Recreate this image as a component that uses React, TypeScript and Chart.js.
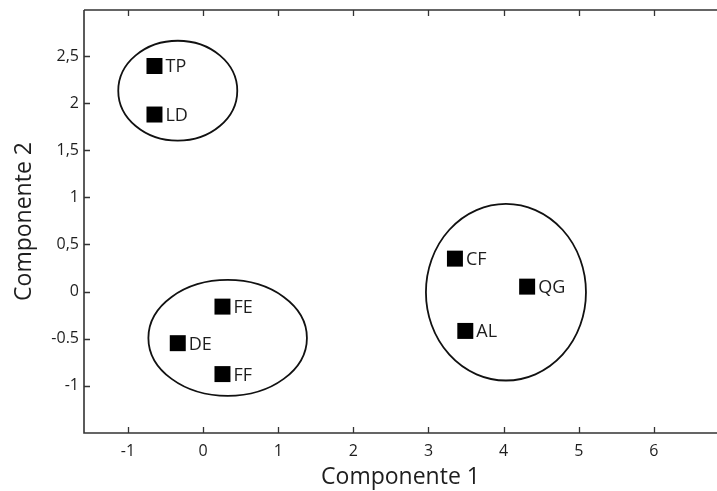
import React, { useEffect, useRef } from "react";
import { Chart, registerables } from "chart.js";

Chart.register(...registerables);

// ---- data ----
const pointNames = ["TP", "LD", "FE", "DE", "FF", "CF", "QG", "AL"];
const comp1 = [-0.647, -0.647, 0.258, -0.337, 0.258, 3.352, 4.313, 3.49];
const comp2 = [2.394, 1.879, -0.159, -0.547, -0.875, 0.35, 0.053, -0.417];

// cluster ellipses (data units)
const ellipseCx = [-0.337, 0.327, 4.031];
const ellipseCy = [2.132, -0.491, -0.006];
const ellipseRx = [0.792, 1.055, 1.065];
const ellipseRy = [0.53, 0.615, 0.937];

const xTickValues = [-1, 0, 1, 2, 3, 4, 5, 6];
const xTickLabels = ["-1", "0", "1", "2", "3", "4", "5", "6"];
const yTickValues = [-1, -0.5, 0, 0.5, 1, 1.5, 2, 2.5];
const yTickLabels = ["-1", "-0.5", "0", "0,5", "1", "1,5", "2", "2,5"];

const xTitle = "Componente 1";
const yTitle = "Componente 2";

const FONT = "'Open Sans', 'Noto Sans', sans-serif";
const AXIS_COLOR = "#333";
const TEXT_COLOR = "#1e1e1e";

const overlayPlugin = {
  id: "overlay",
  beforeDatasetsDraw(chart: any) {
    const { ctx, chartArea, scales } = chart;
    const xs = scales.x;
    const ys = scales.y;
    ctx.save();
    // ellipses
    ctx.strokeStyle = "#111";
    ctx.lineWidth = 1.8;
    for (let i = 0; i < ellipseCx.length; i++) {
      const cx = xs.getPixelForValue(ellipseCx[i]);
      const cy = ys.getPixelForValue(ellipseCy[i]);
      const rx = Math.abs(xs.getPixelForValue(ellipseCx[i] + ellipseRx[i]) - cx);
      const ry = Math.abs(ys.getPixelForValue(ellipseCy[i] + ellipseRy[i]) - cy);
      ctx.beginPath();
      ctx.ellipse(cx, cy, rx, ry, 0, 0, Math.PI * 2);
      ctx.stroke();
    }
    // axes frame
    ctx.strokeStyle = AXIS_COLOR;
    ctx.lineWidth = 1.6;
    ctx.beginPath();
    ctx.moveTo(chartArea.left, chartArea.top);
    ctx.lineTo(chartArea.right, chartArea.top);
    ctx.moveTo(chartArea.left, chartArea.top);
    ctx.lineTo(chartArea.left, chartArea.bottom);
    ctx.lineTo(chartArea.right, chartArea.bottom);
    ctx.stroke();
    // inward ticks
    ctx.lineWidth = 1.3;
    ctx.beginPath();
    const tl = 6;
    xTickValues.forEach((v) => {
      const px = Math.round(xs.getPixelForValue(v)) + 0.5;
      ctx.moveTo(px, chartArea.bottom);
      ctx.lineTo(px, chartArea.bottom - tl);
      ctx.moveTo(px, chartArea.top);
      ctx.lineTo(px, chartArea.top + tl);
    });
    yTickValues.forEach((v) => {
      const py = Math.round(ys.getPixelForValue(v)) + 0.5;
      ctx.moveTo(chartArea.left, py);
      ctx.lineTo(chartArea.left + tl, py);
    });
    ctx.stroke();
    ctx.restore();
  },
  afterDatasetsDraw(chart: any) {
    const { ctx, scales } = chart;
    const xs = scales.x;
    const ys = scales.y;
    ctx.save();
    ctx.fillStyle = TEXT_COLOR;
    ctx.font = `18px ${FONT}`;
    ctx.textAlign = "left";
    ctx.textBaseline = "alphabetic";
    for (let i = 0; i < pointNames.length; i++) {
      const px = xs.getPixelForValue(comp1[i]);
      const py = ys.getPixelForValue(comp2[i]);
      ctx.fillText(pointNames[i], px + 11, py + 6.5);
    }
    ctx.restore();
  },
};

const zeroPad = (s: any) => {
  s.paddingTop = 0;
  s.paddingBottom = 0;
  s.paddingLeft = 0;
  s.paddingRight = 0;
};

export default function App() {
  const ref = useRef<HTMLCanvasElement | null>(null);
  useEffect(() => {
    if (!ref.current) return;
    const chart = new Chart(ref.current, {
      type: "scatter",
      data: {
        datasets: [
          {
            data: comp1.map((x, i) => ({ x, y: comp2[i] })),
            pointStyle: "rect",
            pointRadius: 11.3,
            pointHoverRadius: 11.3,
            backgroundColor: "#000",
            borderColor: "#000",
            borderWidth: 0,
            clip: false,
          },
        ],
      },
      options: {
        animation: false,
        responsive: false,
        devicePixelRatio: 1,
        layout: { autoPadding: false, padding: { top: 10, right: 0, left: 0, bottom: 0 } },
        plugins: { legend: { display: false }, tooltip: { enabled: false } },
        scales: {
          x: {
            type: "linear",
            min: -1.585,
            max: 6.84,
            grid: { display: false, drawTicks: false },
            border: { display: false },
            afterBuildTicks: (s: any) => {
              s.ticks = xTickValues.map((v) => ({ value: v }));
            },
            afterFit: (s: any) => {
              s.height = 58;
              zeroPad(s);
            },
            ticks: {
              padding: 9,
              color: TEXT_COLOR,
              font: { family: FONT, size: 16 },
              callback: (v: any) => {
                const i = xTickValues.indexOf(Number(v));
                return i >= 0 ? xTickLabels[i] : "";
              },
            },
            title: {
              display: true,
              text: xTitle,
              color: TEXT_COLOR,
              font: { family: FONT, size: 23 },
              padding: { top: 0, bottom: 0 },
            },
          },
          y: {
            type: "linear",
            min: -1.5,
            max: 2.988,
            grid: { display: false, drawTicks: false },
            border: { display: false },
            afterBuildTicks: (s: any) => {
              s.ticks = yTickValues.map((v) => ({ value: v }));
            },
            afterFit: (s: any) => {
              s.width = 84;
              zeroPad(s);
            },
            ticks: {
              padding: 5,
              color: TEXT_COLOR,
              font: { family: FONT, size: 16 },
              callback: (v: any) => {
                const i = yTickValues.indexOf(Number(v));
                return i >= 0 ? yTickLabels[i] : "";
              },
            },
            title: {
              display: true,
              text: yTitle,
              color: TEXT_COLOR,
              font: { family: FONT, size: 23 },
              padding: { top: 11, bottom: 0 },
            },
          },
        },
      },
      plugins: [overlayPlugin],
    });
    return () => chart.destroy();
  }, []);
  return (
    <div style={{ position: "absolute", left: 0, top: 0, width: 717, height: 491, background: "#fff" }}>
      <canvas ref={ref} width={717} height={491} style={{ display: "block" }} />
    </div>
  );
}
